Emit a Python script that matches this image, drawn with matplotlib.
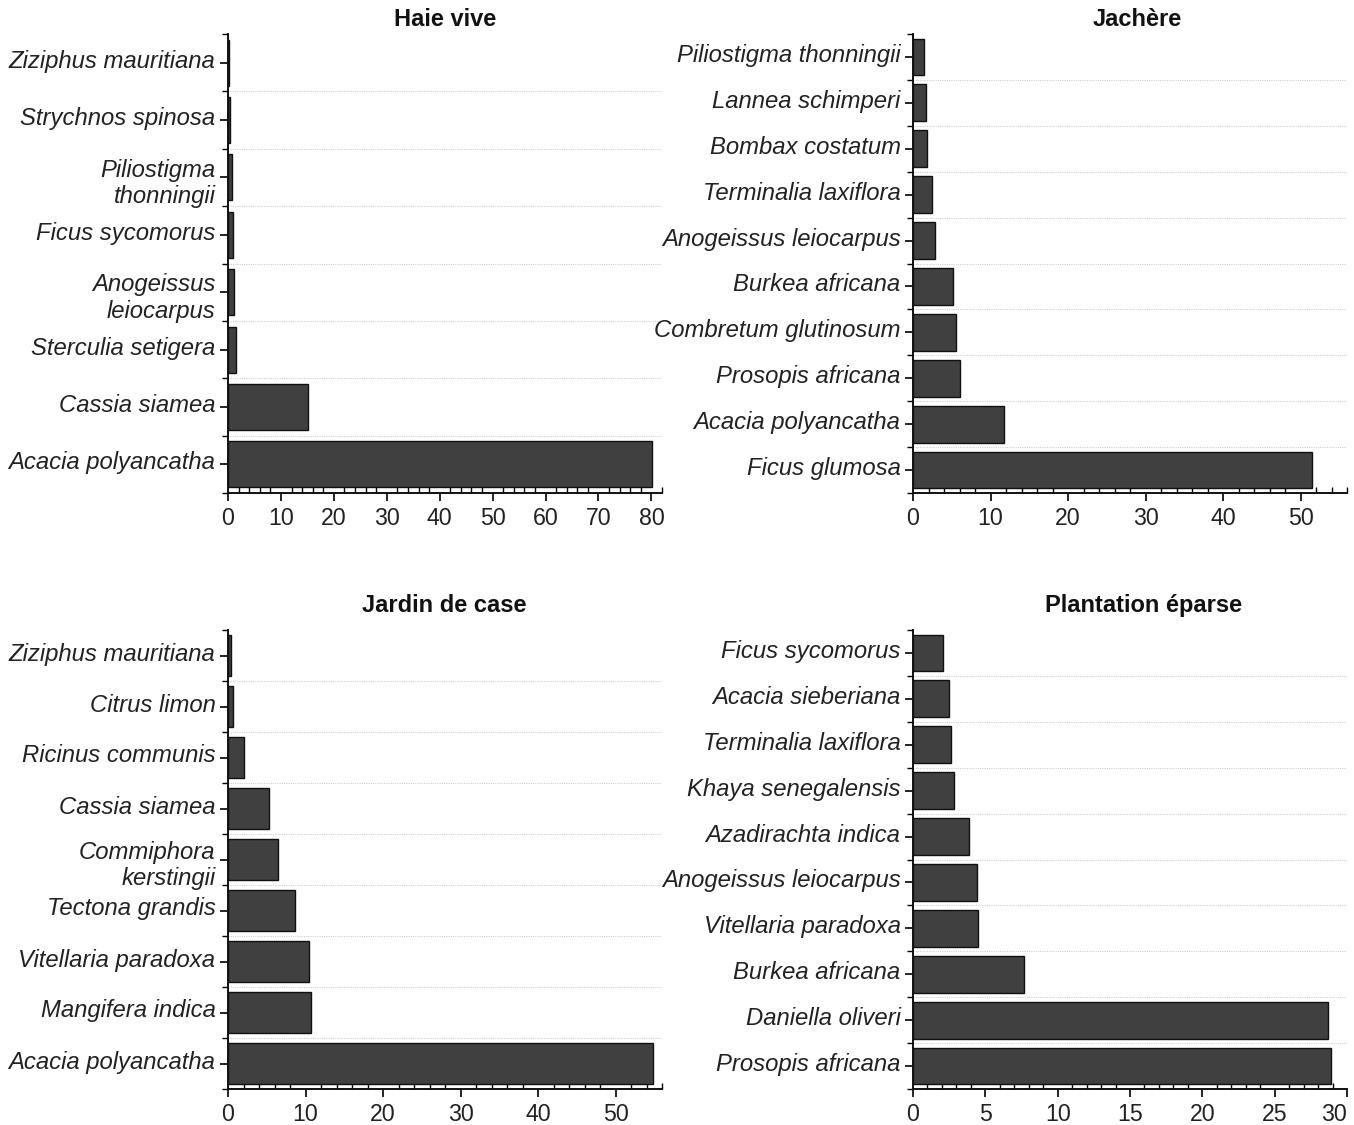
import matplotlib
matplotlib.use('Agg')
import matplotlib.pyplot as plt
import matplotlib.transforms as mtransforms
import numpy as np
from matplotlib.ticker import MultipleLocator, FixedLocator

plt.rcParams['font.family'] = ['Liberation Sans', 'DejaVu Sans']

# data, listed top to bottom as in the chart
haie_species = ['Ziziphus mauritiana', 'Strychnos spinosa', 'Piliostigma\nthonningii',
                'Ficus sycomorus', 'Anogeissus\nleiocarpus', 'Sterculia setigera',
                'Cassia siamea', 'Acacia polyancatha']
haie_values = [0.1, 0.3, 0.7, 1.0, 1.2, 1.5, 15.1, 80.2]

jachere_species = ['Piliostigma thonningii', 'Lannea schimperi', 'Bombax costatum',
                   'Terminalia laxiflora', 'Anogeissus leiocarpus', 'Burkea africana',
                   'Combretum glutinosum', 'Prosopis africana', 'Acacia polyancatha',
                   'Ficus glumosa']
jachere_values = [1.4, 1.7, 1.8, 2.5, 2.9, 5.1, 5.5, 6.0, 11.7, 51.5]

jardin_species = ['Ziziphus mauritiana', 'Citrus limon', 'Ricinus communis', 'Cassia siamea',
                  'Commiphora\nkerstingii', 'Tectona grandis', 'Vitellaria paradoxa',
                  'Mangifera indica', 'Acacia polyancatha']
jardin_values = [0.4, 0.7, 2.0, 5.3, 6.4, 8.6, 10.5, 10.7, 54.9]

plantation_species = ['Ficus sycomorus', 'Acacia sieberiana', 'Terminalia laxiflora',
                      'Khaya senegalensis', 'Azadirachta indica', 'Anogeissus leiocarpus',
                      'Vitellaria paradoxa', 'Burkea africana', 'Daniella oliveri',
                      'Prosopis africana']
plantation_values = [2.1, 2.5, 2.6, 2.8, 3.9, 4.4, 4.5, 7.7, 28.7, 28.9]

panels = [
    ('Haie vive', haie_species, haie_values, 82, 10, 2),
    ('Jachère', jachere_species, jachere_values, 56, 10, 2),
    ('Jardin de case', jardin_species, jardin_values, 56, 10, 2),
    ('Plantation éparse', plantation_species, plantation_values, 30, 5, 1),
]

W, H = 1354, 1125
fig = plt.figure(figsize=(W / 100, H / 100), dpi=100)

# axes boxes in pixels: left, top, right, bottom; title x (axes fraction) and pad
boxes = [(228, 34, 662, 493), (913, 34, 1347, 493),
         (228, 630, 662, 1089), (913, 630, 1347, 1089)]
title_x = [0.5, 0.516, 0.498, 0.532]
title_pad = [6, 6, 13, 13]

fs = 17.2
lift = mtransforms.ScaledTranslation(0, 4 / 100, fig.dpi_scale_trans)
for (title, species, values, xmax, major, minor), (l, t, r, b), tx, tp in zip(
        panels, boxes, title_x, title_pad):
    ax = fig.add_axes([l / W, 1 - b / H, (r - l) / W, (b - t) / H])
    n = len(species)
    pos = list(range(n))
    ax.barh(pos, values, height=0.8, color='#404040', edgecolor='#111111', linewidth=1.0, zorder=3)
    ax.set_ylim(n - 0.5, -0.5)
    ax.set_xlim(0, xmax)

    for k in range(1, n):
        ax.axhline(k - 0.5, color='#cfcfcf', linestyle=(0, (1, 1)), linewidth=0.8, zorder=1)

    ax.set_yticks(pos)
    ax.set_yticklabels(species, fontsize=fs, style='italic', color='#222222')
    ax.yaxis.set_minor_locator(FixedLocator([k - 0.5 for k in range(n + 1)]))
    xt = np.arange(0, xmax + 0.01, major)
    ax.set_xticks(xt)
    ax.set_xticklabels([f'{v:g}' for v in xt])
    ax.xaxis.set_minor_locator(MultipleLocator(minor))
    ax.tick_params(axis='x', which='major', direction='out', length=6, width=1.2,
                   labelsize=fs - 0.5, labelcolor='#222222', pad=4)
    ax.tick_params(axis='x', which='minor', direction='in', length=4, width=1.0)
    ax.tick_params(axis='y', which='major', direction='out', length=6, width=1.2, pad=3)
    ax.tick_params(axis='y', which='minor', direction='out', length=4, width=1.0)

    for spine in ['top', 'right']:
        ax.spines[spine].set_visible(False)
    for spine in ['left', 'bottom']:
        ax.spines[spine].set_linewidth(1.4)
        ax.spines[spine].set_color('#111111')

    # labels sit a little above the tick; two-line labels keep their first line on it
    shift = mtransforms.ScaledTranslation(0, 0.62 * fs / 72, fig.dpi_scale_trans)
    for lab in ax.get_yticklabels():
        tr = lab.get_transform() + lift
        if '\n' in lab.get_text():
            lab.set_verticalalignment('top')
            tr = tr + shift
        lab.set_transform(tr)

    # last x label kept inside the axis when it sits at the very end
    if xt[-1] >= xmax:
        ax.get_xticklabels()[-1].set_horizontalalignment('right')

    ax.set_title(title, fontsize=17, fontweight='bold', pad=tp, color='#111111', x=tx)

fig.savefig('out.png', dpi=100)
